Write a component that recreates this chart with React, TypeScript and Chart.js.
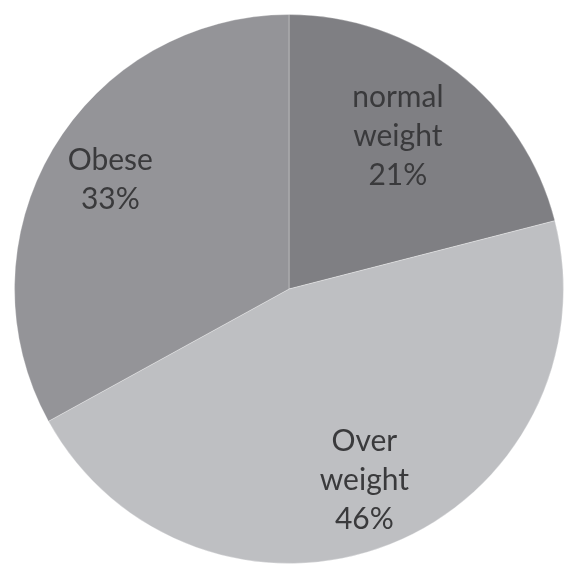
import React, { useEffect, useRef } from "react";
import { Chart, registerables } from "chart.js";

Chart.register(...registerables);

// Weight categories and their shares (%)
const categories = ["normal weight", "Over weight", "Obese"];
const shares = [21, 46, 33];
// Text lines shown inside each slice
const sliceLabels = [
  ["normal", "weight", "21%"],
  ["Over", "weight", "46%"],
  ["Obese", "33%"],
];
const sliceColors = ["#7f7f83", "#bebfc2", "#949498"];

// Label placement inside each slice: fraction of radius and angular nudge (deg)
const labelRadius = [0.686, 0.746, 0.765];
const labelNudge = [-2.5, 0, 1.1];

const sliceTextPlugin = {
  id: "sliceText",
  afterDatasetsDraw(chart: any) {
    const { ctx } = chart;
    const meta = chart.getDatasetMeta(0);
    ctx.save();
    ctx.font = "30px Lato, 'Open Sans', sans-serif";
    ctx.fillStyle = "#3a3a3c";
    ctx.textAlign = "center";
    ctx.textBaseline = "alphabetic";
    const lineH = 39;
    meta.data.forEach((arc: any, i: number) => {
      const { x, y, startAngle, endAngle, outerRadius } = arc.getProps(
        ["x", "y", "startAngle", "endAngle", "outerRadius"],
        true
      );
      const mid = (startAngle + endAngle) / 2 + (labelNudge[i] * Math.PI) / 180;
      const r = outerRadius * labelRadius[i];
      const cx = x + Math.cos(mid) * r;
      const cy = y + Math.sin(mid) * r;
      const lines = sliceLabels[i];
      lines.forEach((line, j) => {
        const by = cy + (j - (lines.length - 1) / 2) * lineH + 11;
        ctx.fillText(line, cx, by);
      });
    });
    ctx.restore();
  },
};

export default function App() {
  const canvasRef = useRef<HTMLCanvasElement | null>(null);

  useEffect(() => {
    if (!canvasRef.current) return;
    const chart = new Chart(canvasRef.current, {
      type: "pie",
      data: {
        labels: categories,
        datasets: [
          {
            data: shares,
            backgroundColor: sliceColors,
            borderColor: "rgba(255,255,255,0.3)",
            borderWidth: 1,
          },
        ],
      },
      options: {
        responsive: false,
        animation: false,
        layout: { padding: { left: 14, top: 14, right: 2, bottom: 1 } },
        plugins: {
          legend: { display: false },
          tooltip: { enabled: false },
        },
      },
      plugins: [sliceTextPlugin],
    });
    return () => chart.destroy();
  }, []);

  return (
    <div style={{ position: "absolute", left: 0, top: 0, width: 566, height: 565, background: "#ffffff" }}>
      <canvas ref={canvasRef} width={566} height={565} style={{ width: 566, height: 565 }} />
    </div>
  );
}
